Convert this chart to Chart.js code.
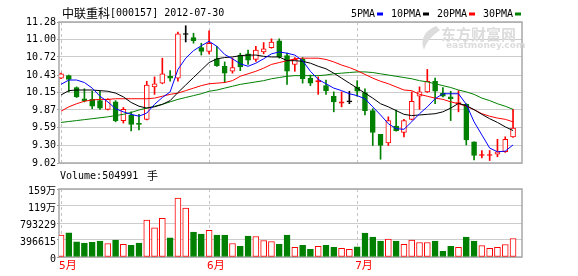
<!DOCTYPE html>
<html>
<head>
<meta charset="utf-8">
<script src="https://cdn.jsdelivr.net/npm/chart.js@4.4.1/dist/chart.umd.min.js"></script>
<style>
  html, body { margin: 0; padding: 0; background: #fff; }
  #wrap { position: relative; width: 578px; height: 276px; overflow: hidden; }
  #priceBox { position: absolute; left: 0; top: 0; width: 578px; height: 170px; }
  #volBox { position: absolute; left: 0; top: 166px; width: 578px; height: 110px; }
</style>
</head>
<body>
<div id="wrap">
  <div id="priceBox"><canvas id="priceChart"></canvas></div>
  <div id="volBox"><canvas id="volumeChart"></canvas></div>
</div>
<script>
// ---- data ----
const monthLabels = ["5月", "6月", "7月"];
const monthStarts = [0, 19, 38];

const opens = [10.38, 10.42, 10.23, 10.05, 10.04, 10.02, 9.88, 10.00, 9.70, 9.79,
  9.645, 9.72, 10.24, 10.30, 10.41, 10.38, 11.08, 11.03, 10.87, 10.81,
  10.69, 10.57, 10.49, 10.75, 10.77, 10.68, 10.80, 10.87, 10.98, 10.74,
  10.60, 10.68, 10.38, 10.32, 10.26, 10.09, 9.98, 10.00, 10.235, 10.15,
  9.86, 9.48, 9.34, 9.61, 9.51, 9.72, 10.09, 10.16, 10.33, 10.14,
  10.08, 9.97, 9.96, 9.36, 9.14, 9.14, 9.16, 9.20, 9.44];
const closes = [10.45, 10.36, 10.08, 10.02, 9.93, 9.90, 10.04, 9.70, 9.88, 9.64,
  9.64, 10.27, 10.29, 10.45, 10.38, 11.09, 11.08, 10.98, 10.81, 10.94,
  10.58, 10.46, 10.55, 10.56, 10.67, 10.83, 10.85, 10.96, 10.72, 10.49,
  10.68, 10.37, 10.30, 10.34, 10.18, 10.00, 10.00, 10.00, 10.17, 9.86,
  9.51, 9.30, 9.70, 9.54, 9.70, 10.01, 10.16, 10.33, 10.17, 10.09,
  10.05, 9.99, 9.39, 9.14, 9.15, 9.15, 9.20, 9.40, 9.58];
const highs = [10.46, 10.43, 10.24, 10.21, 10.17, 10.17, 10.05, 10.02, 9.91, 9.84,
  9.80, 10.33, 10.40, 10.70, 10.50, 11.12, 11.22, 11.10, 10.94, 11.14,
  10.89, 10.64, 10.70, 10.78, 10.83, 10.89, 10.95, 11.01, 11.01, 10.78,
  10.71, 10.71, 10.43, 10.40, 10.35, 10.16, 10.16, 10.17, 10.34, 10.21,
  9.89, 9.48, 9.76, 9.87, 9.72, 10.16, 10.24, 10.52, 10.38, 10.23,
  10.17, 10.18, 9.97, 9.36, 9.22, 9.22, 9.40, 9.44, 9.88];
const lows = [10.37, 10.16, 10.07, 10.00, 9.89, 9.88, 9.87, 9.68, 9.66, 9.535,
  9.55, 9.71, 10.12, 10.29, 10.33, 10.33, 10.96, 10.94, 10.75, 10.77,
  10.57, 10.31, 10.46, 10.50, 10.60, 10.65, 10.77, 10.86, 10.70, 10.28,
  10.49, 10.30, 10.26, 10.12, 10.12, 9.84, 9.92, 9.97, 10.09, 9.79,
  9.30, 9.08, 9.30, 9.53, 9.44, 9.71, 9.88, 10.15, 9.97, 10.08,
  9.70, 9.84, 9.31, 9.07, 9.10, 9.06, 9.12, 9.19, 9.43];

const volumes = [510000, 565000, 353000, 322000, 345000, 369000, 314000, 393000, 298000, 275000,
  322000, 864000, 683000, 903000, 448000, 1374000, 1139000, 581000, 534000, 620000,
  510000, 510000, 314000, 251000, 487000, 479000, 385000, 361000, 298000, 510000,
  228000, 275000, 181000, 251000, 275000, 228000, 204000, 181000, 236000, 558000,
  463000, 369000, 416000, 369000, 298000, 393000, 338000, 338000, 369000, 134000,
  251000, 228000, 463000, 369000, 267000, 204000, 228000, 291000, 432000];

const ma5 = [10.28, 10.35, 10.35, 10.31, 10.22, 10.09, 10.00, 9.89, 9.84, 9.80,
  9.77, 9.82, 9.96, 10.07, 10.16, 10.52, 10.70, 10.82, 10.90, 10.97,
  10.89, 10.76, 10.69, 10.61, 10.57, 10.62, 10.69, 10.77, 10.80, 10.78,
  10.75, 10.66, 10.49, 10.36, 10.29, 10.22, 10.18, 10.13, 10.10, 10.05,
  9.92, 9.79, 9.65, 9.57, 9.56, 9.68, 9.81, 9.92, 10.05, 10.13,
  10.13, 10.13, 9.96, 9.68, 9.47, 9.26, 9.20, 9.21, 9.31];
const ma10 = [10.11, 10.18, 10.19, 10.19, 10.19, 10.18, 10.17, 10.14, 10.08, 9.99,
  9.93, 9.90, 9.92, 9.96, 10.02, 10.15, 10.27, 10.39, 10.51, 10.63,
  10.69, 10.71, 10.72, 10.74, 10.75, 10.75, 10.73, 10.72, 10.72, 10.66,
  10.66, 10.65, 10.62, 10.57, 10.53, 10.46, 10.38, 10.30, 10.22, 10.14,
  10.06, 9.97, 9.92, 9.86, 9.80, 9.78, 9.79, 9.80, 9.81, 9.84,
  9.90, 9.975, 9.94, 9.875, 9.80, 9.73, 9.67, 9.60, 9.54];
const ma20 = [9.85, 9.92, 9.97, 10.01, 10.03, 10.04, 10.04, 10.05, 10.05, 10.05,
  10.05, 10.05, 10.06, 10.09, 10.12, 10.14, 10.18, 10.22, 10.26, 10.29,
  10.30, 10.31, 10.34, 10.41, 10.45, 10.49, 10.54, 10.60, 10.63, 10.66,
  10.69, 10.70, 10.70, 10.70, 10.68, 10.64, 10.59, 10.55, 10.50, 10.44,
  10.38, 10.33, 10.29, 10.24, 10.19, 10.18, 10.12, 10.09, 10.06, 10.04,
  10.00, 9.97, 9.93, 9.875, 9.81, 9.77, 9.74, 9.72, 9.68];
const ma30 = [9.67, 9.685, 9.70, 9.715, 9.73, 9.745, 9.76, 9.78, 9.80, 9.83,
  9.87, 9.90, 9.93, 9.96, 10.00, 10.04, 10.07, 10.10, 10.13, 10.17,
  10.19, 10.22, 10.25, 10.28, 10.30, 10.32, 10.34, 10.37, 10.39, 10.41,
  10.42, 10.42, 10.42, 10.42, 10.43, 10.45, 10.46, 10.47, 10.48, 10.48,
  10.47, 10.45, 10.43, 10.41, 10.39, 10.37, 10.34, 10.32, 10.29, 10.26,
  10.23, 10.19, 10.16, 10.12, 10.06, 10.02, 9.97, 9.93, 9.88];

const priceTickLabels = ["9.02", "9.30", "9.59", "9.87", "10.15", "10.43", "10.72", "11.00", "11.28"];
const volTickValues = [0, 396615, 793229, 1189844, 1586458];
const volTickLabels = ["0", "396615", "793229", "119万", "159万"];

// ---- styling ----
const UP = "#ff0000", DOWN = "#008000", FLAT = "#000000";
const mono = "'DejaVu Sans Mono', 'Noto Sans CJK SC', monospace";
const cjk = "'Noto Sans CJK SC', sans-serif";
const X_MIN = -0.26, X_MAX = 59.15;

const idx = closes.map((_, i) => i);
const candleColors = idx.map(i => closes[i] > opens[i] ? UP : (closes[i] < opens[i] ? DOWN : FLAT));
const bodyFills = idx.map(i => (closes[i] - opens[i] > 0.02) ? "#ffffff" : candleColors[i]);
const volColors = idx.map(i => closes[i] >= opens[i] ? UP : DOWN);
const volFills = idx.map(i => closes[i] >= opens[i] ? "#ffffff" : DOWN);

function maLine(values, color) {
  return {
    type: "line",
    data: values.map((v, i) => ({ x: i, y: v })),
    borderColor: color,
    borderWidth: 1,
    pointRadius: 0,
    tension: 0,
    order: -1
  };
}

const frame = {
  id: "frame",
  beforeDatasetsDraw(chart) {
    const { ctx, chartArea: a } = chart;
    ctx.save();
    ctx.strokeStyle = "#a8a8a8";
    ctx.lineWidth = 1.5;
    ctx.strokeRect(a.left, a.top, a.right - a.left, a.bottom - a.top);
    ctx.restore();
  }
};

const priceDecor = {
  id: "priceDecor",
  beforeDatasetsDraw(chart) {
    // eastmoney watermark
    const ctx = chart.ctx;
    ctx.save();
    ctx.fillStyle = "#dcdcdc";
    ctx.beginPath();
    ctx.moveTo(436, 26);
    ctx.quadraticCurveTo(418, 34, 424, 50);
    ctx.quadraticCurveTo(426, 40, 440, 30);
    ctx.closePath();
    ctx.fill();
    ctx.font = "bold 15px " + cjk;
    ctx.textBaseline = "middle";
    ctx.fillText("东方财富网", 441, 34);
    ctx.font = "bold 9px 'DejaVu Sans', sans-serif";
    ctx.fillText("eastmoney.com", 446, 46);
    ctx.restore();
  },
  afterDraw(chart) {
    const ctx = chart.ctx;
    ctx.save();
    ctx.fillStyle = "#000";
    ctx.textBaseline = "middle";
    ctx.font = "12px " + cjk;
    ctx.fillText("中联重科", 62, 13);
    const w = ctx.measureText("中联重科").width;
    ctx.font = "10px " + mono;
    ctx.fillText("[000157] 2012-07-30", 62 + w, 13);

    const legend = [["5PMA", "#0000ff"], ["10PMA", "#000000"], ["20PMA", "#ff0000"], ["30PMA", "#008000"]];
    ctx.textAlign = "right";
    legend.forEach(([label, color], k) => {
      const mx = 377 + 46 * k;
      ctx.fillStyle = "#000";
      ctx.fillText(label, mx - 2, 14);
      ctx.fillStyle = color;
      ctx.fillRect(mx, 12.5, 6, 3);
    });
    ctx.restore();
  }
};

const volDecor = {
  id: "volDecor",
  afterDraw(chart) {
    const ctx = chart.ctx;
    ctx.save();
    ctx.fillStyle = "#000";
    ctx.textBaseline = "middle";
    ctx.font = "10px " + mono;
    ctx.fillText("Volume:504991", 60, 10);
    ctx.font = "11px " + cjk;
    ctx.fillText("手", 147, 10);
    ctx.restore();
  }
};

// ---- price chart ----
new Chart(document.getElementById("priceChart").getContext("2d"), {
  type: "bar",
  data: {
    datasets: [
      maLine(ma5, "#0000ff"),
      maLine(ma10, "#000000"),
      maLine(ma20, "#ff0000"),
      maLine(ma30, "#008000"),
      {
        data: idx.map(i => ({ x: i, y: [Math.min(opens[i], closes[i]), Math.max(opens[i], closes[i])] })),
        backgroundColor: bodyFills,
        borderColor: candleColors,
        borderWidth: 1,
        borderSkipped: false,
        barThickness: 5,
        minBarLength: 1,
        grouped: false,
        order: 0
      },
      {
        data: idx.map(i => ({ x: i, y: [lows[i], highs[i]] })),
        backgroundColor: candleColors,
        borderWidth: 0,
        barThickness: 1,
        grouped: false,
        order: 1
      }
    ]
  },
  options: {
    responsive: true,
    maintainAspectRatio: false,
    animation: false,
    layout: { padding: { top: 22, right: 56, bottom: 6, left: 0 } },
    plugins: { legend: { display: false }, tooltip: { enabled: false } },
    scales: {
      x: {
        type: "linear",
        offset: false,
        min: X_MIN,
        max: X_MAX,
        afterBuildTicks: s => { s.ticks = monthStarts.map(v => ({ value: v })); },
        afterFit: s => { s.height = 0; },
        ticks: { display: false },
        grid: { color: "#c4c4c4", drawTicks: false, offset: false },
        border: { display: false, dash: [3, 3] }
      },
      y: {
        min: 9.02,
        max: 11.28,
        afterBuildTicks: s => { s.ticks = priceTickLabels.map(t => ({ value: Number(t) })); },
        afterFit: s => { s.width = 59; },
        ticks: {
          callback: (v, i) => priceTickLabels[i],
          color: "#000",
          font: { family: mono, size: 10 },
          padding: 1
        },
        grid: { color: "#cccccc", tickLength: 2, tickColor: "#a0a0a0" },
        border: { display: false }
      }
    }
  },
  plugins: [frame, priceDecor]
});

// ---- volume chart ----
new Chart(document.getElementById("volumeChart").getContext("2d"), {
  type: "bar",
  data: {
    datasets: [{
      data: idx.map(i => ({ x: i, y: volumes[i] })),
      backgroundColor: volFills,
      borderColor: volColors,
      borderWidth: 1,
      borderSkipped: false,
      barThickness: 6
    }]
  },
  options: {
    responsive: true,
    maintainAspectRatio: false,
    animation: false,
    layout: { padding: { top: 23, right: 56, bottom: 0, left: 0 } },
    plugins: { legend: { display: false }, tooltip: { enabled: false } },
    scales: {
      x: {
        type: "linear",
        offset: false,
        min: X_MIN,
        max: X_MAX,
        afterBuildTicks: s => { s.ticks = monthStarts.map(v => ({ value: v })); },
        afterFit: s => { s.height = 19; },
        ticks: {
          callback: (v, i) => monthLabels[i],
          color: UP,
          align: "start",
          labelOffset: -2,
          padding: 3,
          autoSkip: false,
          maxRotation: 0,
          font: { family: mono, size: 11 }
        },
        grid: { color: "#c4c4c4", drawTicks: false, offset: false },
        border: { display: false, dash: [3, 3] }
      },
      y: {
        min: 0,
        max: 1586458,
        afterBuildTicks: s => { s.ticks = volTickValues.map(v => ({ value: v })); },
        afterFit: s => { s.width = 59; },
        ticks: {
          callback: (v, i) => volTickLabels[i],
          color: "#000",
          font: { family: mono, size: 10 },
          padding: 1,
          labelOffset: 2
        },
        grid: { color: "#cccccc", tickLength: 2, tickColor: "#a0a0a0" },
        border: { display: false }
      }
    }
  },
  plugins: [frame, volDecor]
});
</script>
</body>
</html>
